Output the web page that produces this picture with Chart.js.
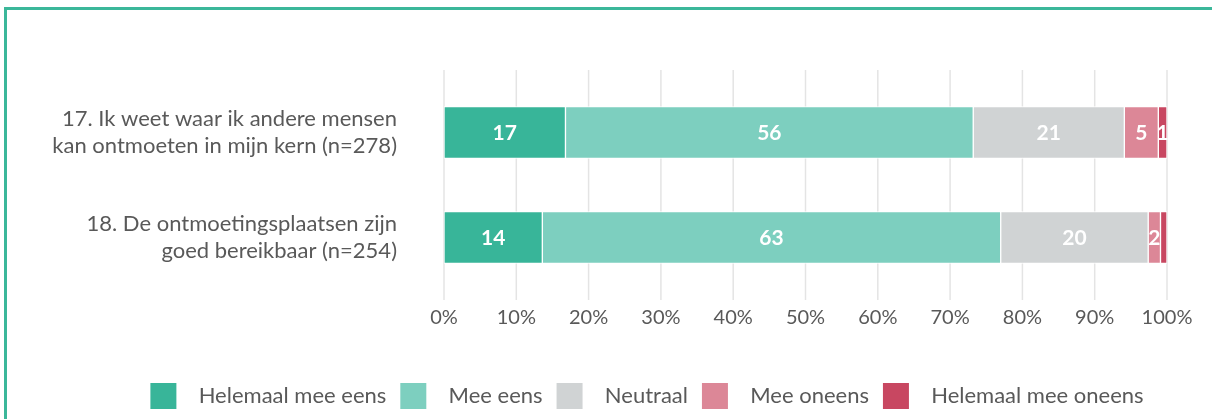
<!DOCTYPE html>
<html><head><meta charset="utf-8">
<script src="https://cdn.jsdelivr.net/npm/chart.js@4/dist/chart.umd.min.js"></script>
<style>
html,body{margin:0;padding:0;background:#fff;overflow:hidden;}
#wrap{position:relative;width:1212px;height:419px;overflow:hidden;}
#frame{position:absolute;left:4px;top:7px;width:1400px;height:600px;border:3px solid #3bb79a;box-sizing:border-box;pointer-events:none;}
canvas{position:absolute;left:0;top:0;}
</style></head><body>
<div id="wrap"><canvas id="c" width="1212" height="419"></canvas><div id="frame"></div></div>
<script>
const categories = [
  ["17. Ik weet waar ik andere mensen", "kan ontmoeten in mijn kern (n=278)"],
  ["18. De ontmoetingsplaatsen zijn", "goed bereikbaar (n=254)"]
];
const seriesNames = ["Helemaal mee eens", "Mee eens", "Neutraal", "Mee oneens", "Helemaal mee oneens"];
const helemaalMeeEens = [16.8, 13.6];
const meeEens = [56.4, 63.4];
const neutraal = [20.9, 20.4];
const meeOneens = [4.7, 1.7];
const helemaalMeeOneens = [1.2, 0.9];
const xTicks = [0, 10, 20, 30, 40, 50, 60, 70, 80, 90, 100];
const seriesColors = ["#38b599", "#7dcfbf", "#d0d3d4", "#dc8797", "#c84761"];

const FONT = "Lato";
const TEXT = "#595959";
const seriesValues = [helemaalMeeEens, meeEens, neutraal, meeOneens, helemaalMeeOneens];

const gridPlugin = {
  id: "customGrid",
  beforeDatasetsDraw(chart) {
    const { ctx, chartArea, scales } = chart;
    const x = scales.x;
    ctx.save();
    ctx.strokeStyle = "#e4e4e4";
    ctx.lineWidth = 1.5;
    x.ticks.forEach(t => {
      const px = x.getPixelForValue(t.value);
      ctx.beginPath();
      ctx.moveTo(px, chartArea.top - 10);
      ctx.lineTo(px, chartArea.bottom + 10);
      ctx.stroke();
    });
    ctx.restore();
  }
};

const labelPlugin = {
  id: "barLabels",
  afterDatasetsDraw(chart) {
    const { ctx } = chart;
    ctx.save();
    ctx.fillStyle = "#ffffff";
    ctx.font = "bold 21px " + FONT;
    ctx.textAlign = "center";
    ctx.textBaseline = "middle";
    chart.data.datasets.forEach((ds, di) => {
      const meta = chart.getDatasetMeta(di);
      meta.data.forEach((el, i) => {
        const v = ds.data[i];
        if (v < 1) return;
        const cx = (el.x + el.base) / 2;
        ctx.fillText(String(Math.round(v)), cx, el.y + 1);
      });
    });
    ctx.restore();
  }
};

const RPAD = -82;

new Chart(document.getElementById("c"), {
  type: "bar",
  data: {
    labels: categories,
    datasets: seriesNames.map((name, i) => ({
      label: name,
      data: seriesValues[i],
      backgroundColor: seriesColors[i],
      borderColor: "#ffffff",
      borderWidth: 1,
      borderSkipped: false,
      barThickness: 52
    }))
  },
  options: {
    indexAxis: "y",
    responsive: false,
    animation: false,
    devicePixelRatio: 1,
    layout: { padding: { top: 80, bottom: 0, left: 0, right: RPAD } },
    scales: {
      x: {
        stacked: true,
        min: 0,
        max: 100,
        afterBuildTicks: s => { s.ticks = xTicks.map(v => ({ value: v })); },
        grid: { display: false, drawTicks: false },
        border: { display: false },
        ticks: {
          padding: 16,
          color: TEXT,
          font: { family: FONT, size: 20 },
          callback: v => v + "%"
        },
        afterFit: s => { s.height = 79; }
      },
      y: {
        stacked: true,
        grid: { display: false, drawTicks: false },
        border: { display: false },
        ticks: {
          padding: 47,
          color: TEXT,
          font: { family: FONT, size: 22, lineHeight: 1.2 }
        },
        afterFit: s => { s.width = 444; }
      },
      yRight: {
        type: "linear",
        position: "right",
        display: true,
        grid: { display: false, drawTicks: false },
        border: { display: false },
        ticks: { display: false },
        afterFit: s => { s.width = 45 - RPAD; }
      }
    },
    plugins: {
      tooltip: { enabled: false },
      legend: {
        position: "bottom",
        labels: {
          boxWidth: 26,
          boxHeight: 26,
          padding: 14,
          color: TEXT,
          font: { family: FONT, size: 22 },
          generateLabels: chart => {
            const items = Chart.defaults.plugins.legend.labels.generateLabels(chart);
            items.forEach(it => { it.text = "  " + it.text; it.lineWidth = 0; });
            return items;
          }
        }
      }
    }
  },
  plugins: [gridPlugin, labelPlugin]
});
</script>
</body></html>
